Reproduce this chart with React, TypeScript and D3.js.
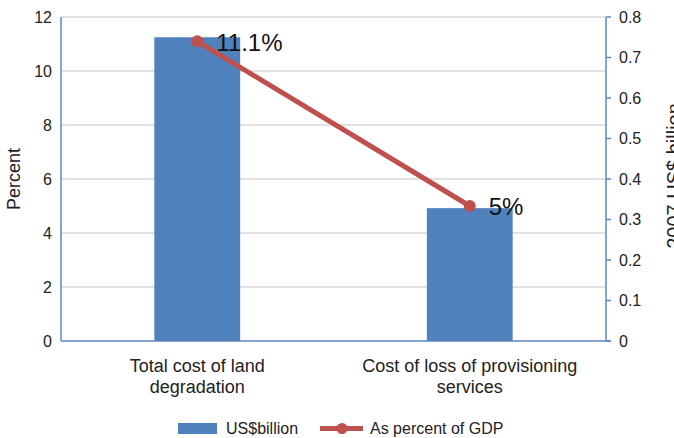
import React from "react";
import * as d3 from "d3";

const categories = [["Total cost of land", "degradation"], ["Cost of loss of provisioning", "services"]];
const usBillion = [0.75, 0.328];
const percentGDP = [11.1, 5];
const pointLabels = ["11.1%", "5%"];
const leftTicks = [0, 2, 4, 6, 8, 10, 12];
const rightTicks = [0, 0.1, 0.2, 0.3, 0.4, 0.5, 0.6, 0.7, 0.8];

const W = 674, H = 438;
const L = 61, R = 606, T = 17, B = 341;
const FONT = "'Liberation Sans', Arial, Helvetica, sans-serif";
const BAR = "#4f81bd";
const LINE = "#c0504d";
const AXIS = "#5b87c2";

export default function App() {
  const x = d3.scaleBand<number>().domain(d3.range(categories.length)).range([L, R]).paddingInner(0).paddingOuter(0);
  const yL = d3.scaleLinear().domain([0, 12]).range([B, T]);
  const yR = d3.scaleLinear().domain([0, 0.8]).range([B, T]);
  const bw = x.bandwidth() * 0.315;
  const cx = (i: number) => (x(i) as number) + x.bandwidth() / 2;
  const line = d3.line<number>().x((_, i) => cx(i)).y((d) => yL(d));

  return (
    <svg width={W} height={H} style={{ position: "absolute", left: 0, top: 0, background: "#fff" }} fontFamily={FONT}>
      {leftTicks.slice(1).map((t) => (
        <line key={t} x1={L} x2={R} y1={yL(t)} y2={yL(t)} stroke="#d9d9d9" strokeWidth={1.5} />
      ))}
      {usBillion.map((v, i) => (
        <rect key={i} x={cx(i) - bw / 2} y={yR(v)} width={bw} height={B - yR(v)} fill={BAR} />
      ))}
      <line x1={L} x2={L} y1={T} y2={B} stroke={AXIS} strokeWidth={1.5} />
      <line x1={R} x2={R} y1={T} y2={B} stroke={AXIS} strokeWidth={1.5} />
      <line x1={L} x2={R + 5} y1={B} y2={B} stroke={AXIS} strokeWidth={1.5} />
      {rightTicks.map((t) => (
        <line key={t} x1={R} x2={R + 5} y1={yR(t)} y2={yR(t)} stroke={AXIS} strokeWidth={1.5} />
      ))}
      {leftTicks.map((t) => (
        <text key={t} x={52} y={yL(t)} dy="0.35em" textAnchor="end" fontSize={16} fill="#222">{t}</text>
      ))}
      {rightTicks.map((t) => (
        <text key={t} x={619} y={yR(t)} dy="0.35em" textAnchor="start" fontSize={16} fill="#222">{t === 0 ? "0" : d3.format(".1f")(t)}</text>
      ))}
      <text transform={`translate(20,${(T + B) / 2}) rotate(-90)`} textAnchor="middle" fontSize={18} fill="#222">Percent</text>
      <text transform={`translate(681,176) rotate(-90)`} textAnchor="middle" fontSize={20} fill="#222">2007 US$ billion</text>
      <path d={line(percentGDP) || ""} fill="none" stroke={LINE} strokeWidth={5} />
      {percentGDP.map((v, i) => (
        <circle key={i} cx={cx(i)} cy={yL(v)} r={6} fill={LINE} />
      ))}
      {percentGDP.map((v, i) => (
        <text key={i} x={cx(i) + 19} y={yL(v) + 1} dy="0.35em" fontSize={24} fill="#111">{pointLabels[i]}</text>
      ))}
      {categories.map((c, i) => (
        <text key={i} x={cx(i)} textAnchor="middle" fontSize={18} fill="#222">
          <tspan x={cx(i)} y={372}>{c[0]}</tspan>
          <tspan x={cx(i)} y={393}>{c[1]}</tspan>
        </text>
      ))}
      <rect x={178} y={423} width={39} height={11} fill={BAR} />
      <text x={226} y={434} fontSize={16} fill="#222">US$billion</text>
      <line x1={320} x2={363} y1={428.5} y2={428.5} stroke={LINE} strokeWidth={5} />
      <circle cx={342} cy={428.5} r={5.5} fill={LINE} />
      <text x={370} y={434} fontSize={16} fill="#222">As percent of GDP</text>
    </svg>
  );
}
